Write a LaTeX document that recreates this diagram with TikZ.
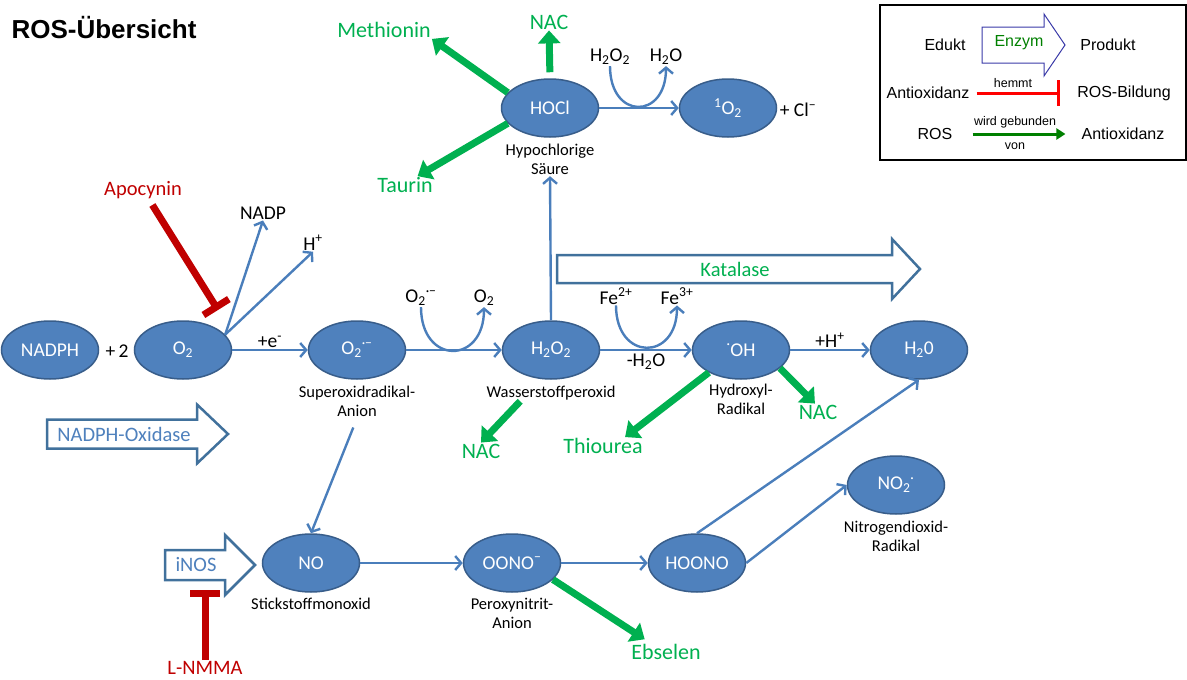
\documentclass[tikz,border=0pt]{standalone}
\usepackage{fontspec}
\setmainfont{Carlito}
\newfontfamily\arialfont{Liberation Sans}
\usetikzlibrary{shapes.geometric,arrows.meta,positioning}

\definecolor{rosblue}{HTML}{4F81BD}
\definecolor{rosedge}{HTML}{385D8A}
\definecolor{arrblue}{HTML}{4A7EBB}
\definecolor{boxblue}{HTML}{41719C}
\definecolor{antigreen}{HTML}{00B050}
\definecolor{inhred}{HTML}{C00000}
\definecolor{legviolet}{HTML}{3A3AA8}
\definecolor{leggreen}{HTML}{008000}

\tikzset{
  species/.style={ellipse, draw=rosedge, line width=1.5pt, fill=rosblue, text=white,
    minimum width=97pt, minimum height=58pt, inner sep=0pt, font=\fontsize{19.5}{22}\selectfont},
  caption/.style={align=center, inner sep=1pt, font=\fontsize{16.5}{19.5}\selectfont},
  chem/.style={inner sep=1pt, font=\fontsize{19.5}{22}\selectfont},
  anti/.style={text=antigreen, inner sep=1pt, font=\fontsize{22}{24}\selectfont},
  inhib/.style={text=inhred, inner sep=1pt, font=\fontsize{20.5}{24}\selectfont},
  enzlabel/.style={inner sep=1pt, font=\fontsize{20.5}{24}\selectfont},
  react/.style={draw=arrblue, line width=2.4pt, -{Straight Barb[length=6pt,width=14pt]}},
  bind/.style={draw=antigreen, line width=7pt, -{Triangle[length=13pt,width=22pt]}},
  blocker/.style={draw=inhred, line width=7pt, -{Bar[width=30pt]}},
  enzbox/.style={draw=boxblue, line width=2.5pt, fill=white, line join=miter},
  legtext/.style={inner sep=0pt, font=\arialfont\fontsize{16}{18}\selectfont},
  legsmall/.style={inner sep=0pt, font=\arialfont\fontsize{12.5}{14}\selectfont}
}

% block arrow: [style]{x start}{x tip}{y}{half shaft}{half head}{head length}
\newcommand{\blockarrow}[7][enzbox]{%
  \draw[#1] (#2,#4-#5) -- (#3-#7,#4-#5) -- (#3-#7,#4-#6) -- (#3,#4)
    -- (#3-#7,#4+#6) -- (#3-#7,#4+#5) -- (#2,#4+#5) -- cycle;}

\begin{document}
\begin{tikzpicture}[x=1pt, y=-1pt]
    \useasboundingbox (0,0) rectangle (1187,680);

    \node[anchor=west, font=\arialfont\bfseries\fontsize{26}{30}\selectfont] (title) at (8,28) {ROS-Übersicht};

    % Enzyme
    \blockarrow{557}{920}{269}{14}{30}{28}
    \node[enzlabel, text=antigreen] (katalase) at (735,269) {Katalase};
    \blockarrow{47}{228}{434}{14.5}{29.5}{31}
    \node[enzlabel, text=rosblue] (nox) at (124,434) {NADPH-Oxidase};
    \blockarrow{165}{255}{565}{15}{30}{30}
    \node[enzlabel, text=rosblue] (inos) at (196,565) {iNOS};

    % Spezies
    \node[species] (nadph) at (50,350) {NADPH};
    \node[chem] (plus2) at (117,351) {+\,2};
    \node[species] (o2) at (183,350) {O\textsubscript{2}};
    \node[species] (sup) at (357,350) {O\textsubscript{2}\textsuperscript{·−}};
    \node[species] (h2o2) at (551,350) {H\textsubscript{2}O\textsubscript{2}};
    \node[species] (oh) at (741,350) {\textsuperscript{·}OH};
    \node[species] (h2o) at (919,350) {H\textsubscript{2}0};
    \node[species] (hocl) at (550,108) {HOCl};
    \node[species] (singlet) at (728,108) {\textsuperscript{1}O\textsubscript{2}};
    \node[species] (no) at (311,563) {NO};
    \node[species] (oono) at (512,563) {OONO\textsuperscript{−}};
    \node[species] (hoono) at (697,563) {HOONO};
    \node[species] (no2) at (896,485) {NO\textsubscript{2}\textsuperscript{·}};

    \node[caption, below=5pt of sup] (supcap) {Superoxidradikal-\\Anion};
    \node[caption, below=5pt of h2o2] (h2o2cap) {Wasserstoffperoxid};
    \node[caption, below=3pt of oh] (ohcap) {Hydroxyl-\\Radikal};
    \node[caption, below=5pt of hocl] (hoclcap) {Hypochlorige\\Säure};
    \node[caption, below=4pt of no] (nocap) {Stickstoffmonoxid};
    \node[caption, below=4pt of oono] (oonocap) {Peroxynitrit-\\Anion};
    \node[caption, below=5pt of no2] (no2cap) {Nitrogendioxid-\\Radikal};

    % Nebenprodukte
    \node[chem] (nadp) at (263,213) {NADP};
    \node[chem] (hplus) at (313,243) {H\textsuperscript{+}};
    \node[chem] (supin) at (421,298) {O\textsubscript{2}\textsuperscript{·−}};
    \node[chem] (o2out) at (484,298) {O\textsubscript{2}};
    \node[chem] (fein) at (616,296) {Fe\textsuperscript{2+}};
    \node[chem] (feout) at (677,296) {Fe\textsuperscript{3+}};
    \node[chem] (h2o2in) at (610,57) {H\textsubscript{2}O\textsubscript{2}};
    \node[chem] (h2oout) at (666,57) {H\textsubscript{2}O};
    \node[chem] (clminus) at (798,110) {+ Cl\textsuperscript{−}};

    % Reaktionen
    \draw[react] (o2) -- node[chem, above] {+e\textsuperscript{-}} (sup);
    \draw[react] (o2.20) -- (nadp.south);
    \draw[react] (o2.20) -- (hplus.south);
    \draw[react] (sup) -- (h2o2);
    \draw[react] (supin.south) .. controls +(0,58) and +(0,58) .. (o2out.south);
    \draw[react] (h2o2) -- node[chem, below=2pt] {-H\textsubscript{2}O} (oh);
    \draw[react] (fein.south) .. controls +(0,56) and +(0,56) .. (feout.south);
    \draw[react] (oh) -- node[chem, above] {+H\textsuperscript{+}} (h2o);
    \draw[react] (h2o2.north) -- (hoclcap.south);
    \draw[react] (hocl) -- (singlet);
    \draw[react] (h2o2in.south) .. controls +(0,54) and +(0,54) .. (h2oout.south);
    \draw[react, shorten <=10pt] (supcap.south) -- (no.north);
    \draw[react] (no) -- (oono);
    \draw[react] (oono) -- (hoono);
    \draw[react] (hoono.north) -- (h2o.south);
    \draw[react] (hoono.east) -- (no2.west);

    % Antioxidanzien
    \node[anti] (methionin) at (384,30) {Methionin};
    \node[anti] (nactop) at (549,22) {NAC};
    \node[anti] (taurin) at (405,185) {Taurin};
    \node[anti] (nach2o2) at (481,451) {NAC};
    \node[anti] (thiourea) at (603,446) {Thiourea};
    \node[anti] (nacoh) at (818,412) {NAC};
    \node[anti] (ebselen) at (666,652) {Ebselen};

    \draw[bind] (hocl.160) -- (methionin.south east);
    \draw[bind, shorten <=6pt] (hocl.north) -- (nactop.south);
    \draw[bind] (hocl.200) -- (taurin.35);
    \draw[bind] (h2o2cap.195) -- (nach2o2.north);
    \draw[bind] (oh.215) -- (thiourea.22);
    \draw[bind] (oh.-25) -- (nacoh.110);
    \draw[bind, shorten >=7pt] (oono.-22) -- (ebselen.150);

    % Hemmstoffe
    \node[inhib] (apocynin) at (143,190) {Apocynin};
    \coordinate (apobar) at (218,310);
    \draw[blocker, shorten <=6pt] (apocynin) -- (apobar);
    \node[inhib] (lnmma) at (205,668) {L-NMMA};
    \coordinate (inosbar) at (205,590);
    \draw[blocker] (lnmma) -- (inosbar);

    % Legende
    \draw[line width=1.2pt] (880,5) rectangle (1186,160);
    \node[legtext] (edukt) at (945,45) {Edukt};
    \blockarrow[draw=legviolet, line width=1pt, fill=white]{982}{1065}{45}{18}{31}{21}
    \node[legtext, text=leggreen] (enzym) at (1019,43) {Enzym};
    \node[legtext] (produkt) at (1108,45) {Produkt};
    \node[legtext] (legant) at (928,93) {Antioxidanz};
    \node[legtext] (legbild) at (1124,93) {ROS-Bildung};
    \draw[red, line width=3pt, -{Bar[width=26pt]}, shorten <=7pt, shorten >=17pt] (legant) -- (legbild);
    \node[legsmall] (hemmt) at (1013,83) {hemmt};
    \node[legtext] (legros) at (935,134) {ROS};
    \node[legtext] (legantib) at (1123,134) {Antioxidanz};
    \draw[leggreen, line width=3pt, -{Triangle[length=9pt,width=11pt]}, shorten <=20pt, shorten >=16pt] (legros) -- (legantib);
    \node[legsmall] (gebunden) at (1015,122) {wird gebunden};
    \node[legsmall] (von) at (1015,146) {von};
\end{tikzpicture}
\end{document}
